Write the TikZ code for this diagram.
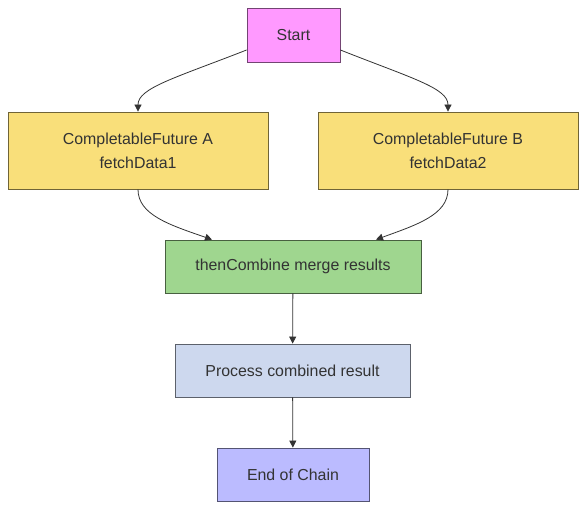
\documentclass[tikz,border=0pt]{standalone}
\usepackage{fontspec}
\setmainfont{Liberation Sans}
\usetikzlibrary{arrows.meta}
\definecolor{txt}{HTML}{333333}
\definecolor{cstart}{HTML}{FF99FF}
\definecolor{cfut}{HTML}{F9DF7A}
\definecolor{ccomb}{HTML}{9FD68F}
\definecolor{cproc}{HTML}{CDD8EE}
\definecolor{cend}{HTML}{BBBBFF}
\begin{document}
\begin{tikzpicture}[x=1pt,y=-1pt,every node/.style={font=\fontsize{15.9}{24}\selectfont,text=txt},
        bx/.style={rectangle,draw=#1!45!black,fill=#1,line width=0.8pt,inner sep=0,align=center},
        ln/.style={draw=txt,line width=0.8pt,-{Triangle[length=7pt,width=7pt]}}]
        \useasboundingbox (0,0) rectangle (586,510);
        \node[bx=cstart,minimum width=93pt,minimum height=54pt] (start) at (293.5,35) {Start};
        \node[bx=cfut,minimum width=260pt,minimum height=77pt] (futA) at (138,150.5) {CompletableFuture A\\fetchData1};
        \node[bx=cfut,minimum width=260pt,minimum height=77pt] (futB) at (448,150.5) {CompletableFuture B\\fetchData2};
        \node[bx=ccomb,minimum width=256pt,minimum height=53pt] (comb) at (293,266.5) {thenCombine merge results};
        \node[bx=cproc,minimum width=235pt,minimum height=53pt] (proc) at (292.5,370.5) {Process combined result};
        \node[bx=cend,minimum width=152pt,minimum height=53pt] (fin) at (293,474.5) {End of Chain};
        % edges
        \draw[ln] ([yshift=-15pt]start.west) .. controls (175,78) and (138,88) .. (futA.north);
        \draw[ln] ([yshift=-15pt]start.east) .. controls (411,78) and (448,88) .. (futB.north);
        \draw[ln] (futA.south) .. controls (138,215) and (170,225) .. ([xshift=-81pt]comb.north);
        \draw[ln] (futB.south) .. controls (448,215) and (416,225) .. ([xshift=83pt]comb.north);
        \draw[ln] (comb) -- (proc);
        \draw[ln] (proc) -- (fin);
    \end{tikzpicture}
\end{document}
